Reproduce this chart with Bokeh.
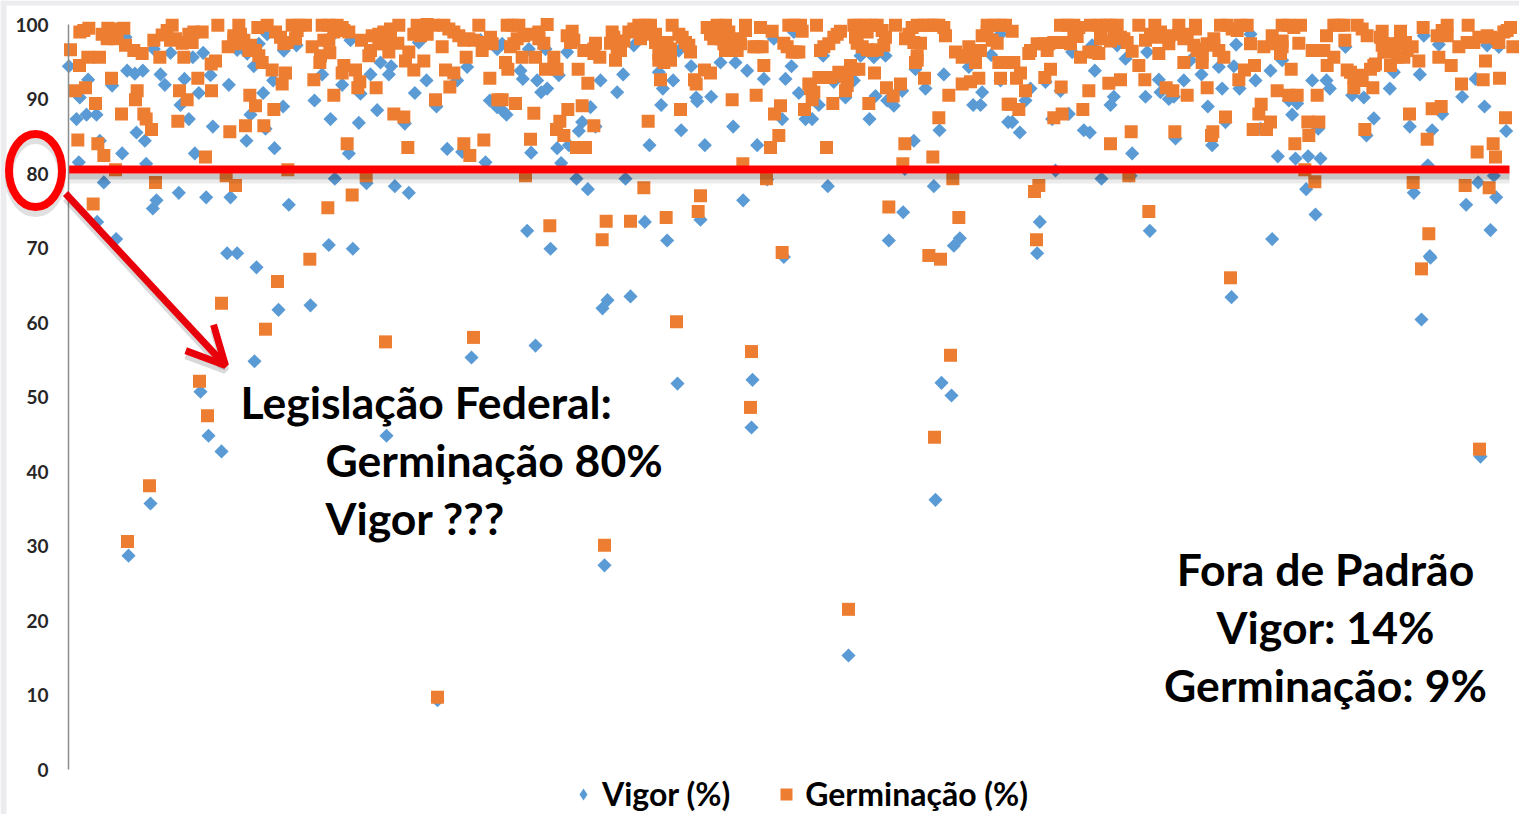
from bokeh.plotting import figure
from bokeh.models import Range1d, Legend, LegendItem, Label, Arrow, OpenHead, FixedTicker
from bokeh.embed import file_html
from bokeh.resources import INLINE

# (sample position, % value)
vigor_points = [
(1,94.4),(59,92.6),(34,90.2),(24,87.3),(54,87.9),(84,87.9),(31,81.5),(94,84.4),(131,91.8),(161,82.7),(176,93.8),(199,93.4),(223,93.8),(204,85.5),(229,84.4),(233,81.3),(106,78.8),(86,73.5),(143,71.2),(264,76.4),(253,75.3),(331,77.4),(413,76.8),(486,76.8),(661,75.8),(799,79.3),(894,78.7),(979,78.3),(1021,77.4),(841,82.7),(781,70.4),(853,69.9),(476,69.3),(506,69.3),(618,83.4),(534,84.4),(433,86.3),(361,87.3),(336,89.2),(289,91.9),(276,93.3),(348,92.7),(391,90.8),(426,93.2),(481,91.9),(556,94.4),(584,90.8),(614,92.5),(644,89.0),(546,87.9),(591,86.0),(738,89.8),(786,87.3),(871,86.8),(926,88.5),(1009,86.7),(876,90.7),(821,91.9),(906,93.3),(961,93.3),(1039,90.8),(1074,92.5),(1196,94.3),(1104,89.0),(1166,92.5),(1264,89.8),(1136,83.3),(1181,82.9),(1251,81.5),(379,82.7),(761,93.3),(571,97.4),(404,96.2),(306,96.2),(373,95.6),(646,96.5),(684,97.2),(846,97.9),(936,94.9),(968,94.4),(1051,97.6),(1286,96.7),(1286,88.9),(536,96.1),(506,96.6),(256,96.7),(596,98.7),(786,98.3),(171,98.3),(1236,97.9),
(558,54.8),(630,61.7),(726,62.3),(396,50.7),(420,44.8),(459,42.7),(246,35.7),(180,28.7),(954,44.8),(1209,55.3),(1401,56.9),(1608,27.4),(1602,61.9),(1617,63.0),(1686,63.5),(1827,51.8),(2052,52.3),(2049,45.9),(2619,51.9),(2649,50.2),(2601,36.2),(2340,15.3),(3489,63.4),(4059,60.4),(4086,68.7),(4236,42.0),(1107,9.3),(564,67.4),
(1301,97.4),(1381,96.7),(1431,96.7),(1496,96.3),(1356,93.8),(1363,92.7),(1406,92.5),(1471,93.2),(1436,91.4),(1418,90.9),(1596,92.5),(1664,93.3),(1646,90.9),(1696,97.2),(1771,93.6),(1814,92.5),(1783,91.4),(1868,94.4),(1883,90.2),(1886,89.7),(1928,90.3),(1778,89.2),(1566,88.9),(1541,86.9),(1531,85.7),(1581,86.3),(1314,87.9),(1301,88.5),(1388,82.8),(1466,83.4),(1501,83.8),(1478,81.4),(1838,85.8),(1743,83.8),(1909,83.8),(1994,86.3),(2066,83.8),(2141,87.3),(2001,94.9),(1956,94.9),(2036,93.8),(2086,92.7),(2151,92.7),(2169,94.4),(2116,98.1),(2176,99.0),(2264,95.8),(2191,90.8),(2251,89.2),(2211,87.3),(2231,87.3),(2331,90.2),(2296,92.3),(2356,92.5),(2421,90.4),(2571,91.4),(2501,91.1),(2456,89.8),(2476,89.1),(2541,94.0),(2626,93.3),(2701,94.3),(2741,90.9),(2714,89.2),(2736,89.2),(2768,95.9),(2796,92.5),(2819,86.9),(2403,87.3),(2613,85.8),(2536,84.4),(2509,80.6),(2376,95.8),(2416,95.6),(2451,95.8),(1524,79.3),(1558,77.9),(1671,79.3),(2096,79.2),(2278,78.3),(2596,78.3),(2024,76.4),(2504,74.8),(1896,73.8),(1729,73.5),(1796,71.0),(1376,72.3),(1446,69.9),(2461,71.0),(2656,70.3),(2674,71.3),(2146,68.8),(2796,98.7),(1831,96.5),
(2831,86.9),(2854,85.5),(2886,91.4),(2871,89.8),(2951,87.3),(3001,88.0),(2931,92.3),(2976,91.1),(3046,85.8),(3064,85.5),(3079,93.8),(3191,82.7),(3126,89.2),(3136,90.3),(3171,95.4),(3236,96.3),(3146,97.2),(3011,96.3),(3071,97.2),(2961,80.4),(3099,79.3),(3231,90.3),(3271,92.6),(3276,90.9),(3301,90.0),(3316,90.3),(3346,92.5),(3399,93.3),(3451,94.3),(3496,94.4),(3503,97.3),(3461,91.4),(3513,91.4),(3561,92.5),(3606,93.8),(3418,89.0),(3471,86.9),(3321,84.7),(3431,83.8),(3546,98.7),(3366,95.2),(3576,86.0),(3628,82.3),(3681,82.0),(3719,82.3),(3756,82.0),(3671,87.9),(3661,89.8),(3686,89.4),(3731,92.5),(3774,92.5),(3784,91.4),(3851,90.5),(3886,90.2),(3964,91.4),(3976,93.6),(4054,93.3),(3916,87.4),(3894,85.1),(3749,86.0),(3713,77.9),(3741,74.5),(4024,86.3),(4091,85.8),(4121,88.0),(4181,90.3),(4248,89.0),(4221,92.7),(4256,97.2),(4291,97.0),(4111,97.3),(4066,98.5),(3831,97.0),(3641,95.2),(4313,85.7),(4078,81.1),(4229,78.8),(4276,79.7),(4036,77.4),(4283,76.8),(4193,75.8),(4266,72.4),(3611,71.2),(3244,72.3),(4084,68.9),(2914,73.5),(2906,69.3),(3186,79.7),
]

germinacao_points = [
(6,96.6),(34,99.0),(61,99.5),(118,99.5),(166,99.5),(116,98.1),(141,98.1),(33,94.5),(58,95.6),(93,95.6),(129,92.8),(21,91.1),(51,91.5),(81,89.4),(159,88.0),(206,91.1),(201,89.9),(226,88.0),(233,87.3),(249,85.9),(28,84.5),(88,84.0),(106,82.4),(141,80.5),(261,78.8),(74,75.9),(171,97.2),(196,96.5),(221,96.1),(256,97.9),(281,98.6),(311,99.9),(306,97.9),(341,97.5),(371,97.6),(376,99.0),(401,99.0),(448,99.9),(511,99.9),(479,97.0),(496,97.9),(526,97.9),(541,96.5),(561,96.5),(581,94.9),(611,93.9),(651,93.5),(641,92.0),(568,99.6),(596,99.9),(621,99.0),(646,97.4),(681,98.1),(671,99.9),(711,99.9),(761,99.9),(806,99.9),(841,99.0),(731,97.0),(766,97.9),(784,96.2),(754,94.9),(826,94.5),(821,93.5),(861,93.9),(874,92.3),(868,91.5),(923,91.5),(736,92.6),(796,90.5),(836,84.0),(1018,83.5),(976,88.0),(1006,87.6),(879,97.9),(911,98.5),(946,99.0),(991,99.9),(901,95.8),(931,97.4),(961,96.3),(988,97.5),(1021,96.3),(1011,95.1),(1036,93.9),(1066,95.1),(1046,99.9),(1056,98.5),(1096,99.9),(1126,99.9),(1156,99.0),(1186,97.9),(1216,97.9),(1231,99.9),(1241,96.5),(1271,97.4),(1121,97.0),(1193,95.6),(1131,93.9),(1156,93.5),(1144,91.6),(1101,89.9),(1264,92.8),(1288,89.9),(1186,84.0),(1204,82.4),(1246,84.5),(274,95.6),(346,95.6),(388,92.8),(428,94.7),(441,95.1),(333,91.1),(356,89.9),(429,91.1),(328,87.0),(484,85.6),(531,86.4),(586,86.4),(616,88.6),(561,89.1),(544,90.5),(411,82.2),(501,78.4),(473,79.7),(658,80.5),(778,75.4),(851,77.1),(893,79.7),(724,68.5),
(46,99.2),(136,99.4),(146,98.7),(101,98.7),(296,99.2),(321,98.1),(356,97.6),(361,98.7),(496,98.5),(516,98.7),(511,97.4),(546,97.2),(571,95.8),(636,98.3),(656,97.6),(691,99.9),(686,99.2),(781,99.9),(821,99.6),(796,99.0),(826,99.2),(756,95.8),(781,97.9),(931,98.7),(966,99.4),(906,96.5),(946,97.4),(966,97.9),(1036,98.7),(1076,100.0),(1076,98.7),(1141,99.4),(1171,98.5),(1201,98.1),(1246,97.6),(1266,98.3),
(627,65.5),(591,59.1),(459,62.6),(393,52.1),(417,47.5),(243,38.1),(177,30.6),(951,57.4),(1215,58.0),(1608,30.1),(1107,9.7),(1824,60.1),(2049,56.1),(2046,48.6),(2646,55.6),(2598,44.6),(2340,21.5),(3486,66.0),(4059,67.2),(4233,43.0),
(1316,99.9),(1351,99.9),(1436,100.0),(1411,99.0),(1381,98.7),(1346,98.1),(1326,97.0),(1426,97.5),(1361,95.6),(1401,95.6),(1456,95.6),(1311,94.9),(1318,94.0),(1431,94.0),(1466,94.0),(1529,94.0),(1558,92.1),(1496,98.5),(1511,99.1),(1516,97.9),(1546,96.5),(1581,97.5),(1576,96.1),(1594,95.6),(1631,99.0),(1626,97.5),(1651,97.5),(1646,96.5),(1641,95.2),(1681,99.0),(1711,99.9),(1746,99.9),(1716,98.1),(1761,97.6),(1796,97.6),(1771,96.1),(1786,94.9),(1806,95.2),(1811,99.9),(1831,98.7),(1851,97.6),(1866,96.3),(1916,99.6),(1946,99.9),(1971,99.9),(2031,99.9),(1926,98.7),(1956,98.1),(1971,96.5),(2006,96.5),(2011,98.1),(2031,99.2),(2076,99.6),(2111,99.1),(2056,97.0),(2081,97.0),(2146,97.5),(2161,99.9),(2196,99.9),(2201,99.1),(2171,96.3),(2191,96.3),(2244,99.9),(2316,99.1),(2296,98.3),(2281,97.4),(2256,96.5),(2356,99.9),(2391,99.9),(2426,99.9),(2366,97.5),(2396,96.6),(2426,96.6),(2446,97.2),(2396,99.0),(2481,99.9),(2531,99.6),(2566,99.9),(2596,99.9),(2626,99.6),(2631,98.5),(2511,98.1),(2556,97.5),(2546,95.8),(2541,94.9),(2661,96.3),(2681,95.6),(2701,97.0),(2736,96.5),(2721,94.9),(2756,99.9),(2796,99.9),(2741,98.5),(2786,97.5),(2791,94.9),(2821,94.9),(2568,92.8),(2418,93.5),(2346,94.5),(2371,94.0),(2311,93.6),(2251,92.9),(2286,92.9),(2221,92.0),(2236,90.9),(2231,89.9),(2208,88.6),(2336,92.7),(2331,91.1),(2454,91.5),(2474,90.4),(2496,92.0),(2641,90.5),(2681,92.0),(2706,92.3),(2731,92.8),(2796,92.8),(2819,89.3),(2401,89.4),(2293,89.4),(2136,89.1),(2118,88.0),(2131,85.1),(2106,83.5),(2274,83.5),(2063,90.5),(1991,89.9),(2086,94.5),(1908,93.9),(1926,93.5),(1776,92.6),(1878,92.6),(1883,92.0),(1836,88.6),(1739,87.0),(1386,84.6),(1341,89.4),(1396,88.1),(1301,89.9),(1498,88.6),(1541,89.1),(1474,87.0),(1576,86.4),(1464,85.9),(1486,85.1),(1524,83.5),(1551,83.5),(2509,84.0),(2593,82.2),(2611,87.5),(2503,81.3),(2023,81.3),(1371,79.7),(1726,78.1),(1896,77.0),(1889,74.9),(2094,79.3),(2653,79.3),(2461,75.5),(2671,74.1),(1793,74.1),(1686,73.6),(1613,73.6),(1444,73.0),(1601,71.1),(2141,69.4),(2581,69.0),(2616,68.5),
(1331,99.9),(1366,98.5),(1411,98.1),(1336,97.4),(1506,97.6),(1561,96.5),(1576,96.7),(1636,98.3),(1656,96.5),(1696,99.4),(1731,99.9),(1736,98.7),(1666,97.8),(1716,99.0),(1761,98.7),(1776,97.0),(1806,96.7),(1771,95.2),(1801,96.1),(1841,98.3),(1861,97.2),(1936,99.2),(1956,99.2),(1981,99.0),(1986,97.6),(1991,96.5),(2016,97.4),(1966,97.4),(1936,98.1),(2066,97.0),(2176,99.9),(2181,96.3),(2156,97.0),(2306,98.7),(2266,97.0),(2371,99.9),(2411,99.9),(2361,98.3),(2441,99.2),(2381,97.0),(2411,96.5),(2451,98.3),(2546,99.9),(2581,99.9),(2611,99.9),(2521,98.7),(2536,97.6),(2546,95.2),(2696,95.8),(2716,96.3),(2776,99.9),(2811,99.9),(2756,99.0),(2771,97.9),(2806,94.9),(2326,93.1),(2336,91.8),(2226,91.4),(2356,94.0),
(2831,99.1),(2976,99.9),(3016,99.9),(3066,99.9),(3111,99.9),(3146,99.9),(3211,99.9),(3259,99.9),(3331,99.9),(3381,99.9),(3456,99.9),(3491,99.4),(3536,99.9),(3641,99.9),(3696,99.9),(3796,99.9),(3826,99.9),(3866,99.9),(4064,99.6),(4136,99.9),(4199,99.9),(4326,99.6),(4306,99.0),(4256,98.5),(4216,97.6),(4171,97.0),(4106,98.5),(4136,98.5),(4333,97.0),(4286,98.1),(3941,99.1),(3996,99.1),(3896,98.5),(3774,98.5),(3829,97.9),(3691,97.5),(3611,98.5),(3546,97.4),(3586,97.0),(3641,97.0),(3636,96.1),(3731,96.5),(3766,96.5),(3796,95.6),(3776,94.5),(3946,97.4),(3991,97.4),(4031,97.0),(3956,96.3),(4006,95.6),(4051,95.1),(4111,95.6),(4148,94.5),(4251,95.1),(3966,94.5),(3921,94.7),(3906,94.0),(3836,93.9),(3856,92.8),(3881,92.5),(3856,91.5),(3913,91.5),(4244,92.6),(4293,92.8),(4179,92.0),(3668,94.0),(3558,94.5),(3528,93.9),(3511,92.6),(3626,91.1),(3661,90.5),(3686,90.5),(3746,90.5),(3578,89.3),(3571,88.0),(3606,86.9),(3718,86.9),(3751,86.9),(3554,85.9),(3594,85.9),(3721,85.1),(3679,84.0),(3709,80.5),(3739,78.9),(3889,85.9),(4023,88.0),(4091,88.7),(4118,89.0),(4311,87.5),(4076,84.6),(4226,82.9),(4274,84.0),(4281,82.2),(4034,78.8),(4190,78.4),(4262,78.1),(3376,97.2),(3436,98.1),(3401,96.7),(3466,95.6),(3401,94.9),(3346,94.9),(3271,96.1),(3231,97.9),(3276,99.0),(3301,97.4),(3356,98.7),(3191,96.4),(3166,98.1),(3136,98.7),(3096,98.1),(3026,98.4),(2996,97.6),(2956,97.6),(2926,97.4),(2881,96.1),(2836,94.9),(2936,96.5),(3036,95.6),(3061,96.3),(3091,96.1),(3211,94.5),(3229,92.6),(3156,92.6),(3121,92.1),(3061,91.1),(2978,91.6),(2946,94.0),(2929,92.9),(2856,93.5),(2844,92.8),(2871,91.1),(2826,89.3),(2851,88.6),(2981,88.0),(2956,87.5),(3043,88.6),(3188,85.6),(3126,84.0),(3319,85.6),(3433,85.6),(3429,85.1),(3471,87.6),(3416,91.5),(3356,90.5),(3313,91.1),(3293,91.5),(2911,78.4),(2898,77.6),(3181,79.7),(3241,74.9),(2904,71.1),(4081,71.9),
(2996,99.9),(3031,99.6),(3091,99.9),(3126,99.9),(3016,98.7),(3006,97.4),(2976,97.6),(2941,97.4),(2906,97.4),(2886,96.5),(3096,98.7),(3126,97.8),(3156,98.3),(3176,97.6),(3081,96.3),(3246,98.7),(3266,98.3),(3301,98.5),(3331,98.7),(3346,98.1),(3381,99.4),(3386,96.5),(3416,97.4),(3436,97.2),(3451,96.5),(3401,95.8),(3476,99.9),(3516,99.9),(3506,99.2),(3616,97.4),(3641,97.8),(3661,99.9),(3676,99.6),(3751,96.5),(3811,99.9),(3881,99.4),(3936,98.3),(3941,97.2),(3966,97.4),(3976,96.5),(3996,98.3),(4011,97.6),(3986,95.6),(3946,96.3),(4016,96.5),(4121,99.2),(3846,93.6),(3866,92.5),(3876,93.2),(3916,94.5),(4266,98.3),(4316,99.2),(4196,97.6),(4231,98.3),(4291,97.6),
]

y_ticks = [0, 10, 20, 30, 40, 50, 60, 70, 80, 90, 100]
series_names = ["Vigor (%)", "Germinação (%)"]
legislacao_lines = ["Legislação Federal:", "Germinação 80%", "Vigor ???"]
fora_lines = ["Fora de Padrão", "Vigor: 14%", "Germinação: 9%"]


def X(px):  # page pixel to sample scale (annotations only)
    return 3 * (px - 68)


def Y(py):  # page pixel to % scale (annotations only)
    return (769 - py) / 7.45


BLUE, ORANGE, RED = "#5B9BD5", "#ED7D31", "#FF0000"
FONT = "Lato"

p = figure(width=1519, height=814, output_backend="svg", toolbar_location=None,
           x_range=Range1d(X(0), X(1519)), y_range=Range1d(Y(814), Y(0)),
           x_axis_location=None, y_axis_location="left",
           min_border=0, min_border_left=0, min_border_right=0,
           min_border_top=0, min_border_bottom=0, outline_line_color=None,
           background_fill_color="white", border_fill_color="white")
p.grid.visible = False

# slide frame strips at the top and left edge
p.quad(left=[X(0)], right=[X(1519)], top=[Y(0)], bottom=[Y(5)], color="#ECECEE", line_color=None)
p.quad(left=[X(0)], right=[X(6)], top=[Y(0)], bottom=[Y(814)], color="#ECECEE", line_color=None)

ax = p.yaxis[0]
ax.fixed_location = 0
ax.bounds = (0, 100)
ax.ticker = FixedTicker(ticks=y_ticks)
ax.major_tick_line_color = None
ax.minor_tick_line_color = None
ax.axis_line_color = "#8c8c8c"
ax.axis_line_width = 1.5
ax.major_label_standoff = 14
ax.major_label_text_font = FONT
ax.major_label_text_font_style = "bold"
ax.major_label_text_font_size = "19px"
ax.major_label_text_color = "#262626"

r_v = p.scatter([a for a, _ in vigor_points], [b for _, b in vigor_points],
                marker="square", angle=0.785398, size=10, color=BLUE, line_color=None)
r_g = p.scatter([a for a, _ in germinacao_points], [b for _, b in germinacao_points],
                marker="square", size=13, color=ORANGE, line_color=None)

# off-chart renderer that only gives the legend its narrow diamond
r_legend_v = p.scatter([float("nan")], [float("nan")], marker="diamond", size=12, color=BLUE, line_color=None)

# shadow and red threshold line
p.line([X(68), X(1509)], [Y(176)] * 2, line_width=6, line_color="black", line_alpha=0.22)
p.line([X(68), X(1509)], [Y(181)] * 2, line_width=4, line_color="black", line_alpha=0.08)
p.line([X(68), X(1509)], [Y(169)] * 2, line_width=8, line_color=RED)

# circle round the 80 tick
p.ellipse([X(35)], [Y(176)], width=53, height=73, width_units="screen", height_units="screen",
          fill_color=None, line_color="black", line_alpha=0.12, line_width=8)
p.ellipse([X(35)], [Y(170)], width=53, height=73, width_units="screen", height_units="screen",
          fill_color=None, line_color=RED, line_width=8)

# arrow
p.add_layout(Arrow(end=OpenHead(size=38, line_color="black", line_alpha=0.15, line_width=7),
                   x_start=X(65), y_start=Y(198), x_end=X(225), y_end=Y(370),
                   line_color="black", line_alpha=0.15, line_width=7))
p.add_layout(Arrow(end=OpenHead(size=38, line_color="#E8000B", line_width=7),
                   x_start=X(65), y_start=Y(193), x_end=X(225), y_end=Y(365),
                   line_color="#E8000B", line_width=7))

# annotation texts
for txt, px, py in zip(legislacao_lines, [240, 325, 325], [401, 459, 517]):
    p.add_layout(Label(x=X(px), y=Y(py), text=txt, text_font=FONT, text_font_style="bold",
                       text_font_size="44.5px", text_color="black", text_baseline="alphabetic"))
for txt, py in zip(fora_lines, [568, 626, 684]):
    p.add_layout(Label(x=X(1325), y=Y(py), text=txt, text_font=FONT, text_font_style="bold",
                       text_font_size="44.5px", text_color="black", text_baseline="alphabetic",
                       text_align="center"))

legend = Legend(items=[LegendItem(label=series_names[0], renderers=[r_legend_v]),
                       LegendItem(label=series_names[1], renderers=[r_g])],
                orientation="horizontal", location=(568, 1),
                background_fill_alpha=0, border_line_color=None,
                label_text_font=FONT, label_text_font_style="bold",
                label_text_font_size="32px", label_text_color="black",
                glyph_width=30, glyph_height=30, spacing=41, label_standoff=4,
                margin=0, padding=0)
p.add_layout(legend, "center")

open("out.html", "w").write(file_html(p, INLINE))
